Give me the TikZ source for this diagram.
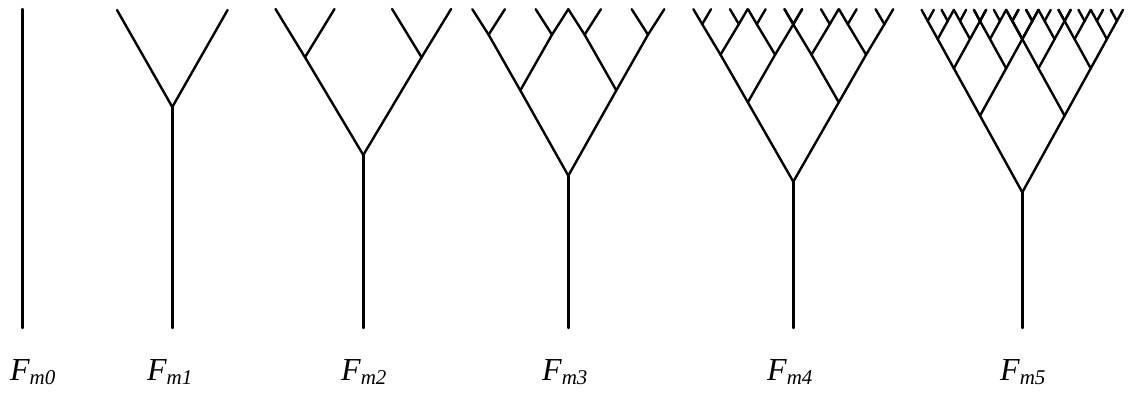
\documentclass[tikz,border=0pt]{standalone}
\usepackage{fontspec}
\setmainfont{Liberation Serif}
\newcommand\fname[1]{F\raisebox{-4pt}{\fontsize{21}{21}\selectfont m#1}}
\tikzset{
  limb/.style={line width=2.4pt, line cap=round, line join=round},
  edge from parent/.style={draw, limb},
  tag/.style={anchor=base west, inner sep=0pt, font=\fontsize{32}{32}\selectfont\itshape},
  grow=up,
}
\begin{document}
\begin{tikzpicture}[x=1pt,y=1pt]
\useasboundingbox (0,0) rectangle (1133,-392);

% F_m0: a bare stem
\coordinate (t0) at (22.3,-9);
\coordinate (b0) at (22.3,-328);
\draw[limb] (b0) -- (t0);

% F_m1
\begin{scope}[level 1/.style={level distance=97pt, sibling distance=110.6pt}]
\coordinate (r1) at (172.3,-107) child foreach \a in {1,2} {coordinate};
\end{scope}
\coordinate (b1) at (172.3,-328);
\draw[limb] (b1) -- (r1);

% F_m2
\begin{scope}[level 1/.style={level distance=97.7pt, sibling distance=116.6pt},
              level 2/.style={level distance=48.3pt, sibling distance=59pt}]
\coordinate (r2) at (363.3,-155)
  child foreach \a in {1,2} {coordinate
    child foreach \b in {1,2} {coordinate}};
\end{scope}
\coordinate (b2) at (363.3,-328);
\draw[limb] (b2) -- (r2);

% F_m3
\begin{scope}[level 1/.style={level distance=85.3pt, sibling distance=96pt},
              level 2/.style={level distance=55.7pt, sibling distance=63.4pt},
              level 3/.style={level distance=25.5pt, sibling distance=32.6pt}]
\coordinate (r3) at (568.3,-175.7)
  child foreach \a in {1,2} {coordinate
    child foreach \b in {1,2} {coordinate
      child foreach \c in {1,2} {coordinate}}};
\end{scope}
\coordinate (b3) at (568.3,-328);
\draw[limb] (b3) -- (r3);

% F_m4
\begin{scope}[level 1/.style={level distance=79.4pt, sibling distance=91pt},
              level 2/.style={level distance=47.6pt, sibling distance=54.6pt},
              level 3/.style={level distance=30.5pt, sibling distance=36.6pt},
              level 4/.style={level distance=15pt, sibling distance=17.6pt}]
\coordinate (r4) at (793.3,-181.7)
  child foreach \a in {1,2} {coordinate
    child foreach \b in {1,2} {coordinate
      child foreach \c in {1,2} {coordinate
        child foreach \d in {1,2} {coordinate}}}};
\end{scope}
\coordinate (b4) at (793.3,-328);
\draw[limb] (b4) -- (r4);

% F_m5
\begin{scope}[level 1/.style={level distance=76.6pt, sibling distance=84.6pt},
              level 2/.style={level distance=47.3pt, sibling distance=52.3pt},
              level 3/.style={level distance=29.3pt, sibling distance=32.3pt},
              level 4/.style={level distance=18.1pt, sibling distance=20pt},
              level 5/.style={level distance=11.2pt, sibling distance=12.3pt}]
\coordinate (r5) at (1022.3,-192.3)
  child foreach \a in {1,2} {coordinate
    child foreach \b in {1,2} {coordinate
      child foreach \c in {1,2} {coordinate
        child foreach \d in {1,2} {coordinate
          child foreach \e in {1,2} {coordinate}}}}};
\end{scope}
\coordinate (b5) at (1022.3,-328);
\draw[limb] (b5) -- (r5);

% labels
\node[tag] (l0) at (10,-380)   {\fname{0}};
\node[tag] (l1) at (147,-380)  {\fname{1}};
\node[tag] (l2) at (341,-380)  {\fname{2}};
\node[tag] (l3) at (542,-380)  {\fname{3}};
\node[tag] (l4) at (767,-380)  {\fname{4}};
\node[tag] (l5) at (1000,-380) {\fname{5}};
\end{tikzpicture}
\end{document}
